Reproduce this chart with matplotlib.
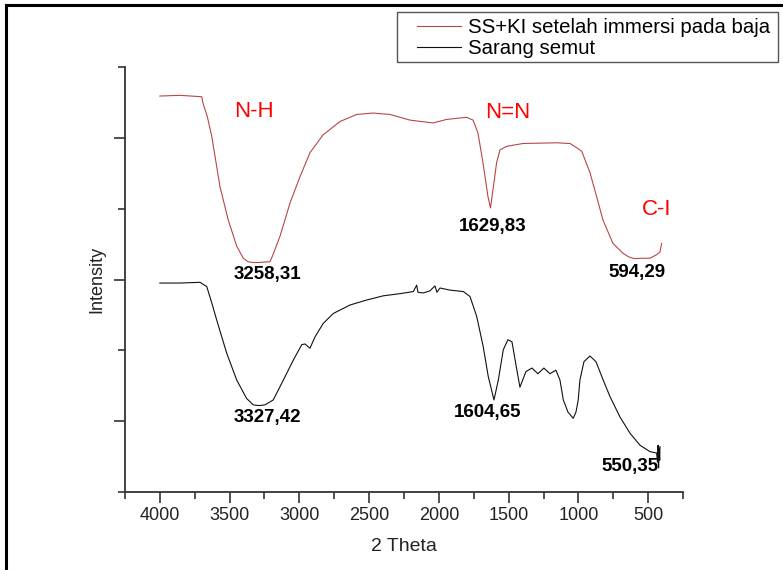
import matplotlib
matplotlib.use('Agg')
import matplotlib.pyplot as plt
from matplotlib.lines import Line2D
from matplotlib.patches import Rectangle
from matplotlib.ticker import FixedLocator, NullFormatter

plt.rcParams['font.family'] = ['Liberation Sans', 'DejaVu Sans']

# Spektrum SS+KI setelah immersi (merah)
wn_ski = [4000, 3856, 3700, 3691, 3660, 3628, 3569, 3510, 3449, 3402, 3368, 3330, 3290, 3258,
          3211, 3189, 3139, 3067, 2996, 2924, 2831, 2709, 2589, 2472, 2350, 2207,
          2042, 1944, 1801, 1755, 1720, 1684, 1648, 1630, 1612, 1586, 1562, 1514,
          1397, 1156, 1060, 1012, 976, 917, 869, 824, 752, 680, 640, 609, 594, 540, 487,
          439, 415, 403]
int_ski = [5.59, 5.60, 5.58, 5.49, 5.30, 5.02, 4.31, 3.84, 3.47, 3.30, 3.25, 3.24, 3.24, 3.245,
           3.25, 3.35, 3.61, 4.08, 4.45, 4.79, 5.04, 5.23, 5.33, 5.35, 5.33, 5.25,
           5.21, 5.26, 5.29, 5.25, 5.07, 4.65, 4.17, 4.01, 4.27, 4.65, 4.83, 4.88,
           4.92, 4.93, 4.92, 4.86, 4.81, 4.51, 4.17, 3.84, 3.51, 3.37, 3.32, 3.30, 3.295, 3.30, 3.30,
           3.35, 3.39, 3.51]

# Spektrum sarang semut (hitam)
wn_ss = [4000, 3856, 3712, 3664, 3628, 3593, 3521, 3449, 3378, 3330, 3290, 3247, 3187,
         3115, 3044, 2983, 2960, 2924, 2888, 2829, 2757, 2637, 2518, 2398, 2279,
         2183, 2159, 2150, 2112, 2064, 2028, 2014, 1992, 1920, 1825, 1777, 1729,
         1682, 1646, 1605, 1574, 1538, 1505, 1476, 1447, 1419, 1376, 1333, 1290,
         1247, 1204, 1161, 1132, 1108, 1075, 1037, 1017, 1001, 989, 960, 917, 874,
         822, 774, 702, 630, 558, 487, 439, 433, 429, 425, 421, 417, 415]
int_ss = [2.95, 2.95, 2.96, 2.90, 2.67, 2.43, 1.96, 1.58, 1.32, 1.23, 1.22, 1.23, 1.30,
          1.58, 1.86, 2.08, 2.09, 2.03, 2.19, 2.38, 2.52, 2.64, 2.71, 2.77, 2.80,
          2.83, 2.92, 2.82, 2.81, 2.84, 2.91, 2.82, 2.88, 2.85, 2.83, 2.76, 2.48,
          2.05, 1.63, 1.30, 1.58, 2.01, 2.15, 2.12, 1.79, 1.48, 1.70, 1.75, 1.67,
          1.75, 1.67, 1.72, 1.58, 1.30, 1.13, 1.04, 1.13, 1.30, 1.58, 1.84, 1.92, 1.84,
          1.58, 1.35, 1.06, 0.83, 0.66, 0.57, 0.55, 0.42, 0.66, 0.34, 0.62, 0.45, 0.64]

# Label puncak
peak_text = ['3258,31', '3327,42', '1629,83', '1604,65', '594,29', '550,35']
peak_x = [3232, 3232, 1612, 1648, 580, 630]
peak_y = [3.065, 1.045, 3.743, 1.116, 3.093, 0.353]

gugus_text = ['N-H', 'N=N', 'C-I']
gugus_x = [3325, 1505, 437]
gugus_y = [5.367, 5.353, 3.983]

W, H = 783, 570
fig = plt.figure(figsize=(W / 100, H / 100), dpi=100)
ax = fig.add_axes([125 / W, 1 - 492 / H, (683 - 125) / W, (492 - 67) / H])

merah = '#b84646'
l1, = ax.plot(wn_ski, int_ski, color=merah, lw=0.8)
l2, = ax.plot(wn_ss, int_ss, color='#111111', lw=0.8)

ax.set_xlim(4250, 250)
ax.set_ylim(0, 6)

for s in ['top', 'right']:
    ax.spines[s].set_visible(False)
for s in ['left', 'bottom']:
    ax.spines[s].set_color('#333333')
    ax.spines[s].set_linewidth(1.3)

ax.xaxis.set_major_locator(FixedLocator([4000, 3500, 3000, 2500, 2000, 1500, 1000, 500]))
ax.xaxis.set_minor_locator(FixedLocator([4250, 3750, 3250, 2750, 2250, 1750, 1250, 750, 250]))
ax.yaxis.set_major_locator(FixedLocator([1, 3, 5]))
ax.yaxis.set_minor_locator(FixedLocator([0, 2, 4, 6]))
ax.yaxis.set_major_formatter(NullFormatter())
ax.tick_params(which='major', direction='out', length=8, width=1.2, color='#333333',
               labelsize=13, labelcolor='#222222', pad=3)
ax.tick_params(which='minor', direction='out', length=5, width=1.2, color='#333333')

ax.set_xlabel('2 Theta', fontsize=14, color='#222222', labelpad=10)
ax.set_ylabel('Intensity', fontsize=13, color='#222222', labelpad=3)

for t, x, y in zip(peak_text, peak_x, peak_y):
    ax.text(x, y, t, fontsize=13.5, fontweight='bold', color='black', ha='center', va='center')
for t, x, y in zip(gugus_text, gugus_x, gugus_y):
    ax.text(x, y, t, fontsize=16, color='red', ha='center', va='center')

# kotak legenda
fig.add_artist(Rectangle((397 / W, 1 - 62 / H), (778 - 397) / W, 50 / H,
                         transform=fig.transFigure, fill=False, edgecolor='#555555', lw=1))
fig.legend([l1, l2], ['SS+KI setelah immersi pada baja', 'Sarang semut'],
           loc='upper left', bbox_to_anchor=(417 / W, 1 - 18 / H), frameon=False,
           borderpad=0, borderaxespad=0, fontsize=14.7, handlelength=2.15,
           handletextpad=0.35, labelspacing=0.1)

# bingkai luar
fig.add_artist(Line2D([6 / W, 1], [1 - 5 / H, 1 - 5 / H], color='black', lw=2.2,
                      transform=fig.transFigure))
fig.add_artist(Line2D([6 / W, 6 / W], [0, 1 - 5 / H], color='black', lw=2.2,
                      transform=fig.transFigure))

fig.savefig('out.png', dpi=100)
